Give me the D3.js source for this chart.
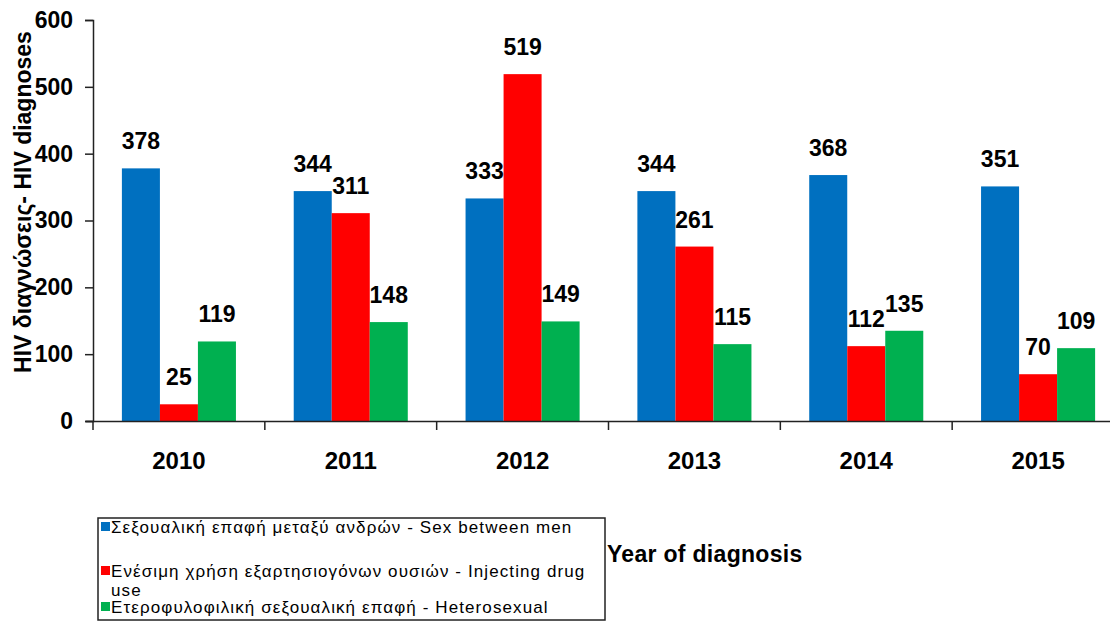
<!DOCTYPE html>
<html>
<head>
    <script src="https://cdnjs.cloudflare.com/ajax/libs/d3/7.8.5/d3.min.js"></script>
    <style>
        body { margin: 0; background: #fff; }
        text { font-family: Arial, 'Liberation Sans', sans-serif; }
        .tick text { font-weight: bold; font-size: 23px; fill: #000; }
        .xaxis .tick text { font-size: 24px; }
        .domain, .tick line { stroke: #222; stroke-width: 1.5; }
        .leg { font-size: 17px; letter-spacing: 1.1px; }
    </style>
</head>
<body>
    <div id="root"></div>
    <script>
        const years = ['2010', '2011', '2012', '2013', '2014', '2015']
        const seriesNames = [
            'Σεξουαλική επαφή μεταξύ ανδρών - Sex between men',
            'Ενέσιμη χρήση εξαρτησιογόνων ουσιών - Injecting drug use',
            'Ετεροφυλοφιλική σεξουαλική επαφή - Heterosexual'
        ]
        const sexBetweenMen = [378, 344, 333, 344, 368, 351]
        const injectingDrugUse = [25, 311, 519, 261, 112, 70]
        const heterosexual = [119, 148, 149, 115, 135, 109]
        const yTicks = [0, 100, 200, 300, 400, 500, 600]
        const colors = ['#0070C0', '#FF0000', '#00B050']

        const series = [sexBetweenMen, injectingDrugUse, heterosexual]
        const w = 1110
        const h = 621

        const svg = d3.select('#root').append('svg')
            .attr('width', w)
            .attr('height', h)

        const y = d3.scaleLinear().domain([0, 600]).range([421, 20])
        const x0 = d3.scaleBand().domain(years).range([93, 1124])
        const x1 = d3.scaleBand().domain([0, 1, 2]).range([0, x0.bandwidth()]).paddingOuter(0.76)

        // bars
        const groups = svg.selectAll('g.year')
            .data(years)
            .enter()
            .append('g')
            .attr('class', 'year')
            .attr('transform', d => `translate(${x0(d)},0)`)

        groups.selectAll('rect')
            .data((d, i) => series.map((s, k) => ({ k: k, v: s[i] })))
            .enter()
            .append('rect')
            .attr('x', d => x1(d.k))
            .attr('y', d => y(d.v))
            .attr('width', x1.bandwidth())
            .attr('height', d => y(0) - y(d.v))
            .attr('fill', d => colors[d.k])

        groups.selectAll('text.val')
            .data((d, i) => series.map((s, k) => ({ k: k, v: s[i] })))
            .enter()
            .append('text')
            .attr('class', 'val')
            .attr('x', d => x1(d.k) + x1.bandwidth() / 2)
            .attr('y', d => y(d.v) - 19)
            .attr('text-anchor', 'middle')
            .style('font-weight', 'bold')
            .style('font-size', '23px')
            .text(d => d.v)

        // axes
        svg.append('g')
            .attr('transform', 'translate(93,0)')
            .call(d3.axisLeft(y).tickValues(yTicks).tickSize(8).tickPadding(12))

        const xAxis = svg.append('g')
            .attr('class', 'xaxis')
            .attr('transform', 'translate(0,421)')
            .call(d3.axisBottom(x0).tickSize(0).tickPadding(31))
        xAxis.select('.domain').attr('d', 'M86,0.5H1124')
        xAxis.selectAll('.xt')
            .data(years)
            .enter()
            .append('line')
            .attr('class', 'xt')
            .attr('x1', d => x0(d))
            .attr('x2', d => x0(d))
            .attr('y1', 0)
            .attr('y2', 9)
            .attr('stroke', '#222')
            .attr('stroke-width', 1.5)

        // y title
        svg.append('text')
            .attr('transform', 'translate(31,202) rotate(-90)')
            .attr('text-anchor', 'middle')
            .style('font-weight', 'bold')
            .style('font-size', '23px')
            .text('HIV διαγνώσεις- HIV diagnoses')

        // x title
        svg.append('text')
            .attr('x', 607)
            .attr('y', 562)
            .style('font-weight', 'bold')
            .style('font-size', '23px')
            .style('letter-spacing', '0.3px')
            .text('Year of diagnosis')

        // legend
        const legend = svg.append('g')
        legend.append('rect')
            .attr('x', 98)
            .attr('y', 518)
            .attr('width', 507)
            .attr('height', 102)
            .attr('fill', 'none')
            .attr('stroke', '#222')
            .attr('stroke-width', 1.5)

        const rowY = [527, 571, 607]
        seriesNames.forEach((name, i) => {
            legend.append('rect')
                .attr('x', 101)
                .attr('y', rowY[i] - 5)
                .attr('width', 9)
                .attr('height', 9)
                .attr('fill', colors[i])
            const t = legend.append('text')
                .attr('class', 'leg')
                .attr('x', 111)
                .attr('y', rowY[i] + 6)
            if (i == 1) {
                t.text('Ενέσιμη χρήση εξαρτησιογόνων ουσιών - Injecting drug')
                legend.append('text')
                    .attr('class', 'leg')
                    .attr('x', 111)
                    .attr('y', rowY[i] + 25)
                    .text('use')
            } else {
                t.text(name)
            }
        })
    </script>
</body>
</html>
